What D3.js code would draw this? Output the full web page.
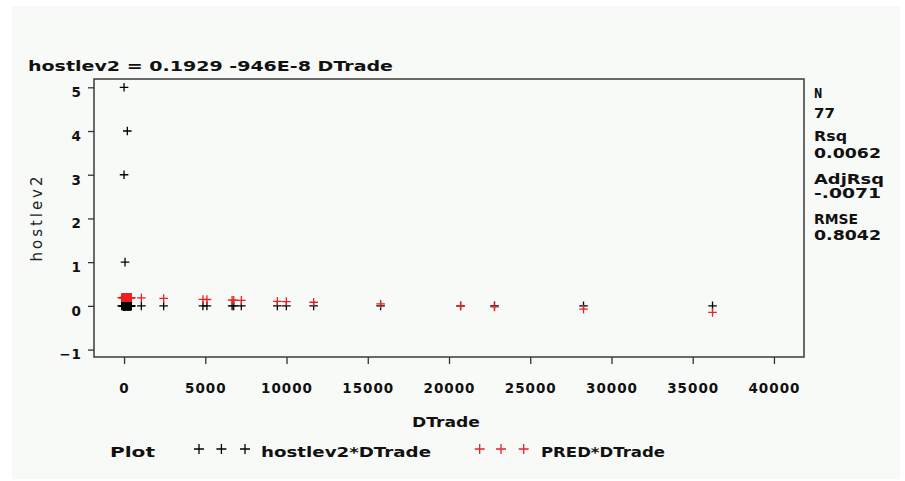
<!DOCTYPE html>
<html>
<head>
<meta charset="utf-8">
<script src="https://cdn.jsdelivr.net/npm/d3@7"></script>
<style>
body { margin: 0; background: #ffffff; }
</style>
</head>
<body>
<svg id="drawing_region"></svg>
<script>
// DTrade for each of the 77 observations (4 high ones, the crowd near 0, then the spread ones)
const dtrade = [
    0, 200, 0, 60,
    -150, -100, -60, -40, -30, -20, -10, 0, 0, 0,
    0, 0, 5, 10, 15, 20, 25, 30, 40, 50,
    60, 70, 80, 90, 100, 110, 120, 130, 140, 150,
    160, 170, 180, 190, 200, 210, 220, 230, 240, 250,
    260, 270, 280, 290, 300, 310, 320, 330, 340, 350,
    360, 370, 380, 390, 400, 410, 420, 450,
    1065, 2437, 4855, 5100, 6650, 6750, 7220, 9434, 9990, 11668,
    15790, 20714, 22800, 28280, 36220
];

const hostlev2 = [
    5, 4, 3, 1,
    0, 0, 0, 0, 0, 0, 0, 0, 0, 0,
    0, 0, 0, 0, 0, 0, 0, 0, 0, 0,
    0, 0, 0, 0, 0, 0, 0, 0, 0, 0,
    0, 0, 0, 0, 0, 0, 0, 0, 0, 0,
    0, 0, 0, 0, 0, 0, 0, 0, 0, 0,
    0, 0, 0, 0, 0, 0, 0, 0,
    0, 0, 0, 0, 0, 0, 0, 0, 0, 0,
    0, 0, 0, 0, 0
];

const pred = [
    0.193, 0.191, 0.193, 0.192,
    0.19, 0.19, 0.19, 0.19, 0.19, 0.19, 0.19, 0.19, 0.19, 0.19,
    0.19, 0.19, 0.19, 0.19, 0.19, 0.19, 0.19, 0.19, 0.19, 0.19,
    0.19, 0.19, 0.19, 0.19, 0.19, 0.19, 0.19, 0.19, 0.19, 0.19,
    0.19, 0.19, 0.19, 0.19, 0.19, 0.19, 0.19, 0.19, 0.19, 0.19,
    0.19, 0.19, 0.19, 0.19, 0.19, 0.19, 0.19, 0.19, 0.19, 0.19,
    0.19, 0.19, 0.19, 0.19, 0.19, 0.19, 0.19, 0.19,
    0.183, 0.170, 0.147, 0.145, 0.130, 0.129, 0.125, 0.104, 0.098, 0.083,
    0.044, -0.003, -0.023, -0.075, -0.150
];

const xticks = [0, 5000, 10000, 15000, 20000, 25000, 30000, 35000, 40000];
const yticks = [-1, 0, 1, 2, 3, 4, 5];

const title = 'hostlev2 = 0.1929 -946E-8 DTrade';
const stats = [['N', '77'], ['Rsq', '0.0062'], ['AdjRsq', '-.0071'], ['RMSE', '0.8042']];
const legend_items = ['hostlev2*DTrade', 'PRED*DTrade'];

const FONT = "'DejaVu Sans', sans-serif";
const RED = '#ee2020';

class RegPlot {
    constructor(config) {
        this.config = config;
        this.init();
    }

    init() {
        let self = this;
        const c = self.config;

        self.svg = d3.select(c.parent)
            .attr('width', c.width)
            .attr('height', c.height);

        self.svg.append('rect')
            .attr('x', 12).attr('y', 6)
            .attr('width', 888).attr('height', 473)
            .attr('fill', '#f8faf8');

        self.xscale = d3.scaleLinear()
            .domain([-1850, 41850])
            .range([c.left, c.right]);

        self.yscale = d3.scaleLinear()
            .domain([-1.17, 5.19])
            .range([c.bottom, c.top]);

        self.xaxis = d3.axisBottom(self.xscale)
            .tickValues(xticks)
            .tickFormat(d3.format('d'))
            .tickSize(7)
            .tickPadding(6);

        self.yaxis = d3.axisLeft(self.yscale)
            .tickValues(yticks)
            .tickFormat(d => d < 0 ? '\u2212' + Math.abs(d) : String(d))
            .tickSize(6)
            .tickPadding(6);
    }

    render() {
        let self = this;
        const c = self.config;

        const xg = self.svg.append('g')
            .attr('transform', `translate(0, ${c.bottom})`)
            .call(self.xaxis);
        const yg = self.svg.append('g')
            .attr('transform', `translate(${c.left}, 0)`)
            .call(self.yaxis);

        [xg, yg].forEach(g => {
            g.select('.domain').remove();
            g.selectAll('line').attr('stroke', '#333').attr('stroke-width', 1.3);
            g.selectAll('text')
                .attr('font-family', FONT)
                .attr('font-weight', 'bold')
                .attr('font-size', 13.5)
                .attr('letter-spacing', 1)
                .attr('fill', '#111');
        });
        xg.selectAll('text').attr('y', 35.5).attr('dy', 0);
        yg.selectAll('text').attr('y', 9.3).attr('dy', 0);

        // frame
        self.svg.append('rect')
            .attr('x', c.left).attr('y', c.top)
            .attr('width', c.right - c.left)
            .attr('height', c.bottom - c.top)
            .attr('fill', 'none')
            .attr('stroke', '#3a3a3a')
            .attr('stroke-width', 1.5);

        const plus = s => `M${-s},0H${s}M0,${-s}V${s}`;
        const points = dtrade.map((d, i) => ({ x: d, y: hostlev2[i], p: pred[i] }));

        self.svg.append('g').selectAll('path')
            .data(points)
            .join('path')
            .attr('transform', d => `translate(${self.xscale(d.x)}, ${self.yscale(d.y)})`)
            .attr('d', plus(4.3))
            .attr('fill', 'none')
            .attr('stroke', '#000')
            .attr('stroke-width', 1.3);

        self.svg.append('g').selectAll('path')
            .data(points)
            .join('path')
            .attr('transform', d => `translate(${self.xscale(d.x)}, ${self.yscale(d.p)})`)
            .attr('d', plus(4.3))
            .attr('fill', 'none')
            .attr('stroke', RED)
            .attr('stroke-width', 1.3);

        const bold = (x, y, str, len) => {
            const t = self.svg.append('text')
                .attr('x', x).attr('y', y)
                .attr('font-family', FONT)
                .attr('font-weight', 'bold')
                .attr('font-size', 13.5)
                .attr('fill', '#111')
                .text(str);
            if (len) t.attr('textLength', len).attr('lengthAdjust', 'spacingAndGlyphs');
            return t;
        };

        bold(28, 71, title, 365);
        bold(446, 426.7, 'DTrade', 68).attr('text-anchor', 'middle');

        self.svg.append('text')
            .attr('transform', 'translate(41.7, 219) rotate(-90)')
            .attr('text-anchor', 'middle')
            .attr('font-family', FONT)
            .attr('font-size', 15)
            .attr('fill', '#222')
            .attr('textLength', 85)
            .attr('lengthAdjust', 'spacing')
            .text('hostlev2');

        // statistics at the right
        const stat_lens = [[8.3, 21], [33, 67], [70, 67], [44, 67]];
        const stat_y = [[98.3, 118.3], [141, 158.3], [183.5, 198.3], [224, 240.3]];
        stats.forEach((s, i) => {
            bold(814, stat_y[i][0], s[0], stat_lens[i][0]);
            bold(814, stat_y[i][1], s[1], stat_lens[i][1]);
        });

        // legend
        bold(110, 456.7, 'Plot', 45);
        const legend_cross = [[199, 221.4, 245], [479.7, 501, 523.7]];
        const legend_col = ['#000', RED];
        legend_cross.forEach((xs, k) => {
            xs.forEach(x => {
                self.svg.append('path')
                    .attr('transform', `translate(${x}, 449)`)
                    .attr('d', plus(5))
                    .attr('fill', 'none')
                    .attr('stroke', legend_col[k])
                    .attr('stroke-width', 1.3);
            });
        });
        bold(261, 456.7, legend_items[0], 170);
        bold(541, 456.7, legend_items[1], 124);
    }
}

const config = {
    parent: '#drawing_region',
    width: 905,
    height: 481,
    left: 94, right: 804, top: 79, bottom: 357
};

const plot = new RegPlot(config);
plot.render();
</script>
</body>
</html>
